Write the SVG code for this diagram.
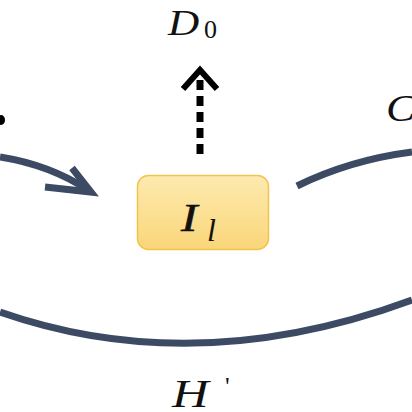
<svg xmlns="http://www.w3.org/2000/svg" width="412" height="412" viewBox="0 0 412 412">
<style>
.lbl{font-family:"Liberation Serif","Times New Roman",serif;fill:#111}
.it{font-style:italic}
.flow{fill:none;stroke:#3d4a63;stroke-width:7;stroke-linecap:butt}
</style>
<defs>
<linearGradient id="g" x1="0" y1="0" x2="0" y2="1">
<stop offset="0" stop-color="#fdeab0"/>
<stop offset="1" stop-color="#fad679"/>
</linearGradient>
</defs>
<rect width="412" height="412" fill="#fff"/>
<g id="connectors">
<path class="flow" d="M0,157 Q50,165 88,190"/>
<path class="flow" d="M45,187 L91,192 L72,168"/>
<path class="flow" d="M297,186 Q350,160 412,152"/>
<path class="flow" d="M0,312 Q195,380 412,300"/>
<path d="M200,154 L200,74" fill="none" stroke="#000" stroke-width="7" stroke-dasharray="10 6"/>
<path d="M183,89 L200,70 L217,89" fill="none" stroke="#000" stroke-width="6"/>
</g>
<g id="node-Il">
<rect x="137.5" y="175.5" width="131" height="74" rx="11" fill="url(#g)" stroke="#f2c44e" stroke-width="1.5"/>
<text class="lbl it" transform="translate(181,231) scale(1.2,1)" font-size="41" stroke="#111" stroke-width="0.6">I</text>
<text class="lbl it" x="207" y="241" font-size="32">l</text>
</g>
<g id="node-D0">
<text class="lbl it" transform="translate(168,35) scale(1.2,1)" font-size="36">D</text>
<text class="lbl" x="204" y="38" font-size="26">0</text>
</g>
<g id="node-C">
<text class="lbl it" transform="translate(386,121) scale(1.15,1)" font-size="38">C</text>
</g>
<g id="node-H">
<text class="lbl it" transform="translate(172,407) scale(1.3,1)" font-size="39">H</text>
<text class="lbl" x="225" y="395" font-size="26">'</text>
</g>
<g id="node-left">
<ellipse cx="1" cy="120" rx="4" ry="5" fill="#000"/>
</g>
</svg>
